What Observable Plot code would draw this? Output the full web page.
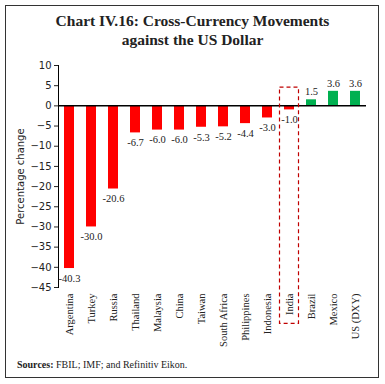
<!DOCTYPE html>
<html><head><meta charset="utf-8">
<script src="https://cdn.jsdelivr.net/npm/d3@7"></script>
<script src="https://cdn.jsdelivr.net/npm/@observablehq/plot@0.6"></script>
<style>
body{margin:0;background:#fff;}
#wrap{position:relative;width:385px;height:384px;overflow:hidden;}
#box{position:absolute;left:5px;top:5px;width:372px;height:371px;border:1px solid #333;}
#title{position:absolute;left:0;top:11px;width:385px;text-align:center;font-family:"Liberation Serif",serif;font-weight:bold;font-size:15.5px;line-height:19px;color:#222;}
#src{position:absolute;left:17px;top:359px;font-family:"Liberation Serif",serif;font-size:10px;color:#222;}
#chart{position:absolute;left:0;top:0;}
</style></head>
<body><div id="wrap"><div id="box"></div>
<div id="title">Chart IV.16: Cross-Currency Movements<br>against the US Dollar</div>
<div id="chart"></div>
<div id="src"><b>Sources:</b> FBIL; IMF; and Refinitiv Eikon.</div>
</div>
<script>
const countries = ["Argentina","Turkey","Russia","Thailand","Malaysia","China","Taiwan","South Africa","Philippines","Indonesia","India","Brazil","Mexico","US (DXY)"];
const changes = [-40.3,-30.0,-20.6,-6.7,-6.0,-6.0,-5.3,-5.2,-4.4,-3.0,-1.0,1.5,3.6,3.6];
const highlighted = ["India"];
const yTicks = [10,5,0,-5,-10,-15,-20,-25,-30,-35,-40,-45];
const highlightSpan = {top: 4.5, bottom: -54};

const data = countries.map((c,i)=>({c, v: changes[i]}));
const serif = "Liberation Serif, serif";
const chart = Plot.plot({
  width: 385, height: 384,
  marginTop: 65, marginBottom: 97, marginLeft: 58, marginRight: 19,
  style: {background: "transparent", fontFamily: serif, fontSize: "10px", color: "#222"},
  x: {domain: countries, paddingInner: 0.55, paddingOuter: 0.275, axis: null},
  y: {domain: [-45, 10], axis: null},
  marks: [
    Plot.barY(data, {x: "c", y: "v", fill: d => d.v < 0 ? "#ff0000" : "#00b050"}),
    Plot.ruleY([0], {stroke: "#000", strokeWidth: 1.5}),
    Plot.axisY({ticks: yTicks, tickSize: 4, tickPadding: 3, fontFamily: "DejaVu Sans, sans-serif", fontSize: 10,
      label: "Percentage change", labelAnchor: "center", labelOffset: 42, labelArrow: "none"}),
    Plot.frame({anchor: "left", stroke: "#000"}),
    Plot.axisX({tickSize: 0, tickRotate: -90, tickPadding: 6, fontSize: 10.5, fontFamily: serif, label: null}),
    Plot.text(data.filter(d => d.v < 0), {x: "c", y: "v", text: d => d.v.toFixed(1), dy: 10, fontSize: 10.5, fill: "#222"}),
    Plot.text(data.filter(d => d.v >= 0), {x: "c", y: "v", text: d => d.v.toFixed(1), dy: -8, fontSize: 10.5, fill: "#222"}),
    Plot.barY(highlighted, {x: d => d, y1: highlightSpan.bottom, y2: highlightSpan.top, fill: "none", stroke: "#c00000", strokeDasharray: "4,3", strokeWidth: 1.2, insetLeft: -4.5, insetRight: -4.5})
  ]
});
document.getElementById("chart").appendChild(chart);
</script>
</body></html>
